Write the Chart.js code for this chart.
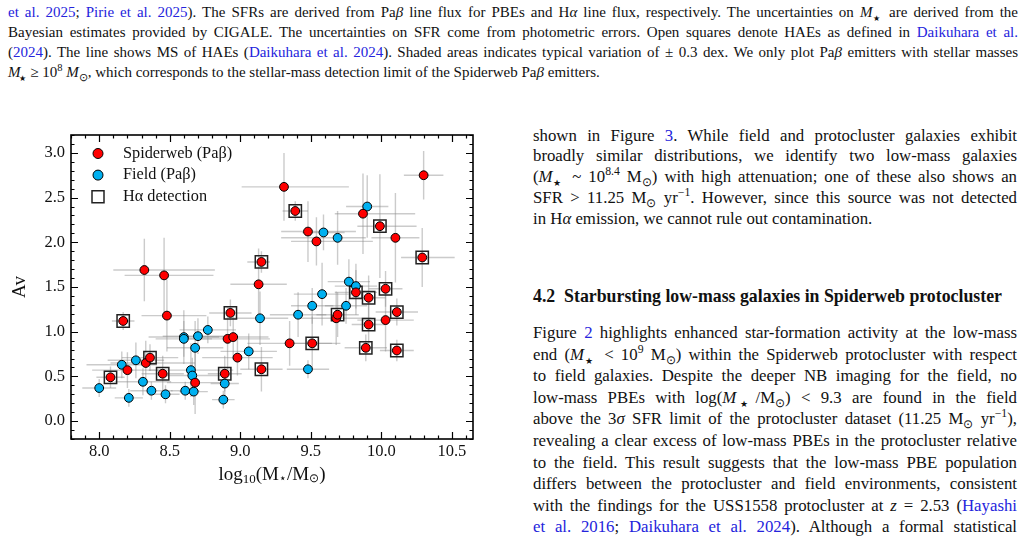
<!DOCTYPE html>
<html>
<head>
<meta charset="utf-8">
<script src="https://cdn.jsdelivr.net/npm/chart.js@4.4.0/dist/chart.umd.min.js"></script>
<style>
body { margin: 0; background: #fff; }
#page { position: relative; width: 1025px; height: 539px; overflow: hidden; font-family: "Liberation Serif", serif; color: #111; }
.ln { position: absolute; white-space: nowrap; text-align: justify; text-align-last: justify; }
.cap { left: 8px; width: 1010px; font-size: 15px; line-height: 20px; }
.col { left: 533px; width: 484px; font-size: 16.8px; line-height: 21px; }
.last { text-align-last: left; }
.hd { left: 533px; font-size: 17.8px; line-height: 21px; font-weight: bold; }
a { color: #2424dc; text-decoration: none; }
sub, sup { font-size: 70%; line-height: 0; }
sub.st { font-size: 55%; margin-left: -2px; margin-right: 1px; }
#c { position: absolute; left: 0; top: 100px; }
</style>
</head>
<body>
<div id="page">
  <div class="ln cap" style="top:2px"><a>et al. 2025</a>; <a>Pirie et al. 2025</a>). The SFRs are derived from Pa<i>β</i> line flux for PBEs and H<i>α</i> line flux, respectively. The uncertainties on <i>M</i><sub class="st">★</sub> are derived from the</div>
  <div class="ln cap" style="top:22px">Bayesian estimates provided by CIGALE. The uncertainties on SFR come from photometric errors. Open squares denote HAEs as defined in <a>Daikuhara et al.</a></div>
  <div class="ln cap" style="top:42px">(<a>2024</a>). The line shows MS of HAEs (<a>Daikuhara et al. 2024</a>). Shaded areas indicates typical variation of ± 0.3 dex. We only plot Pa<i>β</i> emitters with stellar masses</div>
  <div class="ln cap last" style="top:62px"><i>M</i><sub class="st">★</sub> ≥ 10<sup>8</sup> <i>M</i><sub>⊙</sub>, which corresponds to the stellar-mass detection limit of the Spiderweb Pa<i>β</i> emitters.</div>

  <div class="ln col" style="top:124.5px">shown in Figure <a>3</a>. While field and protocluster galaxies exhibit</div>
  <div class="ln col" style="top:145px">broadly similar distributions, we identify two low-mass galaxies</div>
  <div class="ln col" style="top:166px">(<i>M</i><sub class="st">★</sub> ~ 10<sup>8.4</sup> M<sub>⊙</sub>) with high attenuation; one of these also shows an</div>
  <div class="ln col" style="top:186.5px">SFR &gt; 11.25 M<sub>⊙</sub> yr<sup>−1</sup>. However, since this source was not detected</div>
  <div class="ln col last" style="top:207.5px">in H<i>α</i> emission, we cannot rule out contamination.</div>

  <div class="ln hd" style="top:286px">4.2&nbsp;&nbsp;Starbursting low-mass galaxies in Spiderweb protocluster</div>

  <div class="ln col" style="top:322.2px">Figure <a>2</a> highlights enhanced star-formation activity at the low-mass</div>
  <div class="ln col" style="top:343.8px">end (<i>M</i><sub class="st">★</sub> &lt; 10<sup>9</sup> M<sub>⊙</sub>) within the Spiderweb protocluster with respect</div>
  <div class="ln col" style="top:365.3px">to field galaxies. Despite the deeper NB imaging for the field, no</div>
  <div class="ln col" style="top:386.9px">low-mass PBEs with log(<i>M</i><sub class="st">★</sub>/M<sub>⊙</sub>) &lt; 9.3 are found in the field</div>
  <div class="ln col" style="top:408.4px">above the 3<i>σ</i> SFR limit of the protocluster dataset (11.25 M<sub>⊙</sub> yr<sup>−1</sup>),</div>
  <div class="ln col" style="top:430px">revealing a clear excess of low-mass PBEs in the protocluster relative</div>
  <div class="ln col" style="top:451.6px">to the field. This result suggests that the low-mass PBE population</div>
  <div class="ln col" style="top:473.1px">differs between the protocluster and field environments, consistent</div>
  <div class="ln col" style="top:494.7px">with the findings for the USS1558 protocluster at <i>z</i> = 2.53 (<a>Hayashi</a></div>
  <div class="ln col" style="top:516.2px"><a>et al. 2016</a>; <a>Daikuhara et al. 2024</a>). Although a formal statistical</div>

  <canvas id="c" width="490" height="400"></canvas>
</div>

<script>
// axis ticks / ranges
const xTicks = [8.0, 8.5, 9.0, 9.5, 10.0, 10.5];
const yTicks = [0.0, 0.5, 1.0, 1.5, 2.0, 2.5, 3.0];
const xRange = [7.8, 10.65];
const yRange = [-0.2, 3.2];

// Spiderweb Pa-beta emitters (log mass, Av, mass error [lo, hi], Av error, H-alpha detected)
const spiderMass = [8.08, 8.17, 8.20, 8.33, 8.36, 8.32, 8.46, 8.45, 8.48, 8.68,
                    8.89, 8.91, 8.95, 8.93, 8.98, 9.13, 9.15, 9.15, 9.31, 9.35,
                    9.39, 9.48, 9.51, 9.54, 9.68, 9.69, 9.82, 9.87, 9.89, 9.91,
                    9.91, 9.99, 10.03, 10.03, 10.10, 10.11, 10.11, 10.29, 10.30];
const spiderAv = [0.49, 1.12, 0.57, 0.65, 0.71, 1.69, 1.63, 0.53, 1.18, 0.43,
                  0.53, 0.92, 0.94, 1.21, 0.71, 1.53, 1.78, 0.58, 2.62, 0.87,
                  2.35, 2.12, 0.87, 2.01, 1.15, 1.19, 1.44, 2.32, 0.82, 1.38,
                  1.08, 2.18, 1.48, 1.13, 2.05, 1.22, 0.79, 1.83, 2.75];
const spiderMassErr = [[0.10, 0.10], [0.08, 0.08], [0.25, 0.25], [0.25, 0.35], [0.20, 0.20],
                       [0.22, 0.50], [0.28, 0.35], [0.15, 0.15], [0.18, 0.28], [0.20, 0.20],
                       [0.12, 0.12], [0.30, 0.30], [0.25, 0.25], [0.15, 0.15], [0.25, 0.25],
                       [0.20, 0.20], [0.10, 0.06], [0.15, 0.15], [0.30, 0.46], [0.30, 0.30],
                       [0.09, 0.09], [0.19, 0.34], [0.20, 0.20], [0.18, 0.40], [0.25, 0.25],
                       [0.15, 0.15], [0.15, 0.15], [0.20, 0.37], [0.15, 0.15], [0.12, 0.12],
                       [0.12, 0.12], [0.16, 0.26], [0.12, 0.12], [0.20, 0.20], [0.17, 0.17],
                       [0.15, 0.15], [0.12, 0.12], [0.15, 0.23], [0.14, 0.14]];
const spiderAvErr = [0.12, 0.10, 0.20, 0.25, 0.15, 0.35, 0.42, 0.20, 0.40, 0.35,
                     0.20, 0.35, 0.25, 0.15, 0.20, 0.40, 0.12, 0.25, 0.38, 0.25,
                     0.11, 0.34, 0.30, 0.27, 0.30, 0.25, 0.25, 0.45, 0.15, 0.25,
                     0.30, 0.58, 0.20, 0.35, 0.50, 0.15, 0.12, 0.33, 0.27];
const spiderHa = [1, 1, 0, 0, 1, 0, 0, 1, 0, 0,
                  1, 0, 0, 1, 0, 0, 1, 1, 0, 0,
                  1, 0, 1, 0, 0, 1, 1, 0, 1, 1,
                  1, 1, 1, 0, 0, 1, 1, 1, 0];

// field Pa-beta emitters
const fieldMass = [8.00, 8.16, 8.21, 8.26, 8.31, 8.37, 8.47, 8.60, 8.60, 8.61,
                   8.65, 8.66, 8.67, 8.68, 8.70, 8.77, 8.89, 8.88, 9.06, 9.14,
                   9.41, 9.48, 9.51, 9.58, 9.59, 9.69, 9.75, 9.77, 9.82, 9.90];
const fieldAv = [0.37, 0.63, 0.26, 0.68, 0.44, 0.34, 0.30, 0.94, 0.92, 0.34,
                 0.57, 0.51, 0.33, 0.82, 0.95, 1.02, 0.42, 0.24, 0.78, 1.15,
                 1.19, 0.58, 1.29, 1.42, 2.11, 2.05, 1.29, 1.56, 1.51, 2.40];
const fieldMassErr = [[0.12, 0.12], [0.25, 0.25], [0.10, 0.10], [0.20, 0.20], [0.20, 0.20],
                      [0.15, 0.15], [0.10, 0.10], [0.25, 0.25], [0.20, 0.20], [0.10, 0.10],
                      [0.30, 0.30], [0.20, 0.20], [0.10, 0.10], [0.20, 0.20], [0.25, 0.25],
                      [0.20, 0.20], [0.10, 0.10], [0.08, 0.08], [0.20, 0.20], [0.20, 0.20],
                      [0.20, 0.20], [0.15, 0.15], [0.15, 0.15], [0.20, 0.20], [0.15, 0.15],
                      [0.40, 0.20], [0.15, 0.15], [0.15, 0.15], [0.15, 0.15], [0.15, 0.15]];
const fieldAvErr = [0.10, 0.15, 0.10, 0.20, 0.15, 0.10, 0.10, 0.30, 0.20, 0.10,
                    0.30, 0.20, 0.15, 0.30, 0.20, 0.15, 0.15, 0.10, 0.20, 0.30,
                    0.25, 0.10, 0.20, 0.35, 0.20, 0.30, 0.20, 0.25, 0.25, 0.35];

const serif = '"Liberation Serif", serif';

const spiderPts = spiderMass.map((m, i) => ({x: m, y: spiderAv[i], xe: spiderMassErr[i], ye: spiderAvErr[i]}));
const fieldPts = fieldMass.map((m, i) => ({x: m, y: fieldAv[i], xe: fieldMassErr[i], ye: fieldAvErr[i]}));
const haPts = spiderPts.filter((p, i) => spiderHa[i] === 1);

// error bars, frame with inward ticks, legend and axis titles
const framePlugin = {
    id: 'frame',
    beforeDatasetsDraw(chart) {
        const ctx = chart.ctx, xs = chart.scales.x, ys = chart.scales.y;
        ctx.save();
        ctx.strokeStyle = 'rgba(140,140,140,0.45)';
        ctx.lineWidth = 1.4;
        [0, 1].forEach(d => {
            chart.data.datasets[d].data.forEach(p => {
                const px = xs.getPixelForValue(p.x), py = ys.getPixelForValue(p.y);
                ctx.beginPath();
                ctx.moveTo(xs.getPixelForValue(p.x - p.xe[0]), py);
                ctx.lineTo(xs.getPixelForValue(p.x + p.xe[1]), py);
                ctx.moveTo(px, ys.getPixelForValue(p.y - p.ye));
                ctx.lineTo(px, ys.getPixelForValue(p.y + p.ye));
                ctx.stroke();
            });
        });
        ctx.restore();
    },
    afterDatasetsDraw(chart) {
        const ctx = chart.ctx, a = chart.chartArea, xs = chart.scales.x, ys = chart.scales.y;
        ctx.save();
        ctx.strokeStyle = '#000';
        ctx.lineWidth = 1.2;
        // minor + major ticks, all four sides, pointing inward
        for (let k = Math.ceil(xRange[0] * 10); k <= Math.floor(xRange[1] * 10); k++) {
            const v = k / 10;
            const major = xTicks.some(t => Math.abs(t - v) < 1e-6);
            const len = major ? 7 : 3.5;
            const px = Math.round(xs.getPixelForValue(v)) + 0.5;
            ctx.beginPath();
            ctx.moveTo(px, a.bottom); ctx.lineTo(px, a.bottom - len);
            ctx.moveTo(px, a.top); ctx.lineTo(px, a.top + len);
            ctx.stroke();
        }
        for (let k = Math.ceil(yRange[0] * 10); k <= Math.floor(yRange[1] * 10); k++) {
            const v = k / 10;
            const major = yTicks.some(t => Math.abs(t - v) < 1e-6);
            const len = major ? 7 : 3.5;
            const py = Math.round(ys.getPixelForValue(v)) + 0.5;
            ctx.beginPath();
            ctx.moveTo(a.left, py); ctx.lineTo(a.left + len, py);
            ctx.moveTo(a.right, py); ctx.lineTo(a.right - len, py);
            ctx.stroke();
        }
        ctx.lineWidth = 1.6;
        ctx.strokeRect(a.left, a.top, a.right - a.left, a.bottom - a.top);

        // legend
        ctx.font = '16.3px ' + serif;
        ctx.textBaseline = 'middle';
        ctx.fillStyle = '#111';
        chart.data.datasets.forEach((ds, i) => {
            const cx = a.left + 27, cy = a.top + 18.5 + i * 21.6;
            ctx.beginPath();
            if (ds.pointStyle === 'rect') {
                ctx.lineWidth = 1.5;
                ctx.strokeStyle = ds.borderColor;
                ctx.rect(cx - 6, cy - 6, 12, 12);
                ctx.stroke();
            } else {
                ctx.lineWidth = 1;
                ctx.strokeStyle = '#000';
                ctx.fillStyle = ds.backgroundColor;
                ctx.arc(cx, cy, 5, 0, Math.PI * 2);
                ctx.fill();
                ctx.stroke();
            }
            ctx.fillStyle = '#111';
            ctx.textAlign = 'left';
            ctx.fillText(ds.label, a.left + 52, cy);
        });

        // y title
        ctx.save();
        ctx.translate(20, (a.top + a.bottom) / 2);
        ctx.rotate(-Math.PI / 2);
        ctx.textAlign = 'center';
        ctx.font = '19px ' + serif;
        ctx.fillText('Av', 0, 0);
        ctx.restore();

        // x title with subscripts
        const parts = [['log', 19, 0], ['10', 13, 5], ['(M', 19, 0], ['⋆', 12, 4], ['/M', 19, 0], ['⊙', 12, 4], [')', 19, 0]];
        let total = 0;
        parts.forEach(p => { ctx.font = p[1] + 'px ' + serif; total += ctx.measureText(p[0]).width; });
        let x = (a.left + a.right) / 2 - total / 2;
        const y = a.bottom + 36;
        ctx.textAlign = 'left';
        parts.forEach(p => {
            ctx.font = p[1] + 'px ' + serif;
            ctx.fillText(p[0], x, y + p[2]);
            x += ctx.measureText(p[0]).width;
        });
        ctx.restore();
    }
};

const tickFont = {family: serif, size: 16.5};

new Chart(document.getElementById('c'), {
    type: 'scatter',
    data: {
        datasets: [
            {label: 'Spiderweb (Paβ)', data: spiderPts, pointRadius: 4.4, pointHoverRadius: 4.4,
             backgroundColor: '#ff0000', borderColor: '#000', borderWidth: 1},
            {label: 'Field (Paβ)', data: fieldPts, pointRadius: 4.4, pointHoverRadius: 4.4,
             backgroundColor: '#00b0f0', borderColor: '#000', borderWidth: 1},
            {label: 'Hα detection', data: haPts, pointStyle: 'rect', pointRadius: 8.7, pointHoverRadius: 8.7,
             backgroundColor: 'rgba(0,0,0,0)', borderColor: '#222', borderWidth: 1.5}
        ]
    },
    options: {
        responsive: false,
        animation: false,
        devicePixelRatio: 1,
        layout: {padding: {top: 35, right: 17, bottom: 15, left: 0}},
        plugins: {legend: {display: false}, tooltip: {enabled: false}},
        scales: {
            x: {
                type: 'linear', min: xRange[0], max: xRange[1],
                grid: {display: false, drawTicks: false}, border: {display: false},
                afterBuildTicks: s => { s.ticks = xTicks.map(v => ({value: v})); },
                afterFit: s => { s.height = 46; },
                ticks: {padding: 3, font: tickFont, color: '#111', autoSkip: false, maxRotation: 0,
                        callback: v => v.toFixed(1)}
            },
            y: {
                type: 'linear', min: yRange[0], max: yRange[1],
                grid: {display: false, drawTicks: false}, border: {display: false},
                afterBuildTicks: s => { s.ticks = yTicks.map(v => ({value: v})); },
                afterFit: s => { s.width = 71; },
                ticks: {padding: 6, font: tickFont, color: '#111', autoSkip: false,
                        callback: v => v.toFixed(1)}
            }
        }
    },
    plugins: [framePlugin]
});
</script>
</body>
</html>
